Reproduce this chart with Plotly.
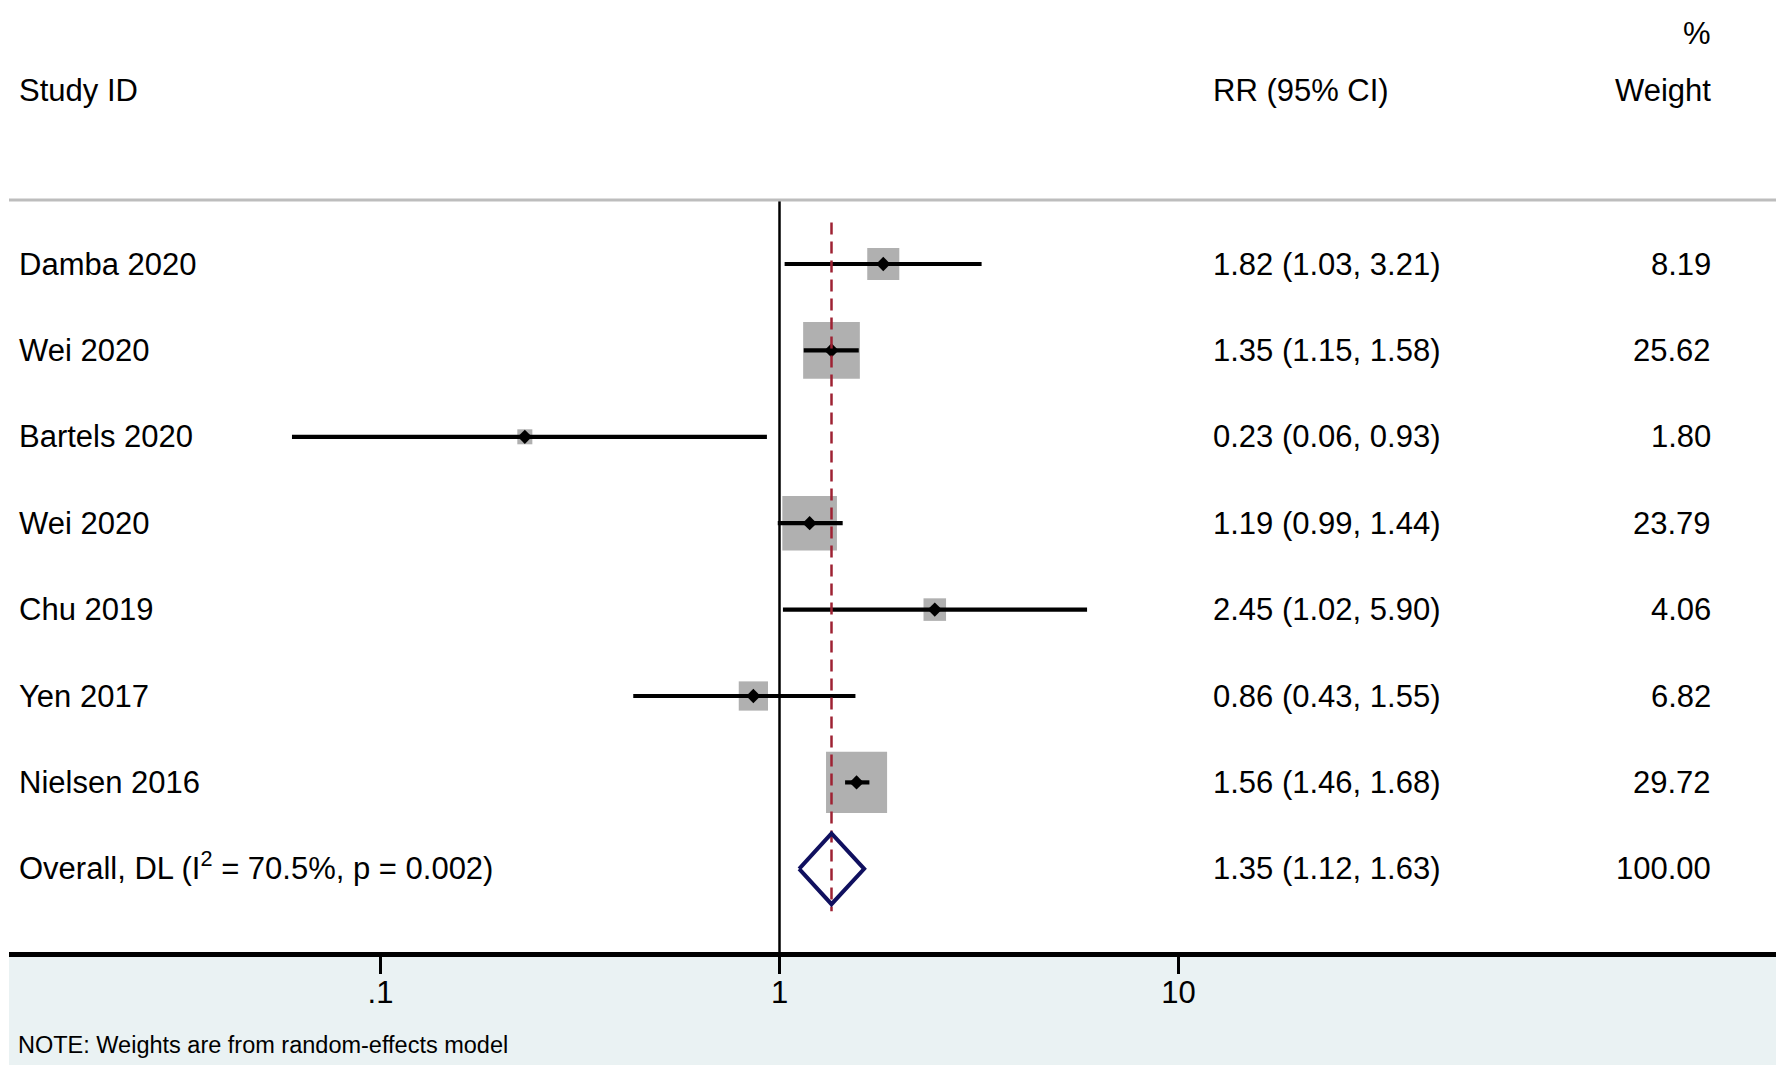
import numpy as np
import plotly.graph_objects as go

# ---------------- data ----------------
studies = ["Damba 2020", "Wei 2020", "Bartels 2020", "Wei 2020", "Chu 2019", "Yen 2017", "Nielsen 2016"]
rr = [1.82, 1.35, 0.23, 1.19, 2.45, 0.86, 1.56]
lower = [1.03, 1.15, 0.06, 0.99, 1.02, 0.43, 1.46]
upper = [3.21, 1.58, 0.93, 1.44, 5.90, 1.55, 1.68]
weights = [8.19, 25.62, 1.80, 23.79, 4.06, 6.82, 29.72]
overall_label = "Overall, DL (I<sup>2</sup> = 70.5%, p = 0.002)"
overall_rr, overall_lo, overall_hi = 1.35, 1.12, 1.63
tick_vals = [0.1, 1, 10]
tick_text = [".1", "1", "10"]

# page body has an 8px margin; shrink the figure so it fits the window exactly
OFF = 8
W, H = 1784 - OFF, 1065 - OFF
FONT = "Liberation Sans, Arial, sans-serif"
FS = 31

n = len(studies)
rows = list(range(n))
overall_row = n

# geometry (window pixels, converted to figure pixels by subtracting OFF)
row0_px, row_step = 264.0 - OFF, 86.4
axis_px = 952.0 - OFF
header_px = 200.0 - OFF
x1_px, decade_px = 779.5 - OFF, 399.0
left_px = 9.0 - OFF

def row_of(px):
    return (px - row0_px) / row_step

y_range = [row_of(axis_px), row_of(0)]
x_range = [(left_px - x1_px) / decade_px, (W - x1_px) / decade_px]

fig = go.Figure()

# vertical line at RR = 1
fig.add_trace(go.Scatter(x=[1, 1], y=[row_of(header_px), row_of(axis_px)], mode="lines",
                         line=dict(color="black", width=2.5), hoverinfo="skip", showlegend=False))

# squares (weights)
sizes = [11.2 * np.sqrt(w) for w in weights]
fig.add_trace(go.Scatter(x=rr, y=rows, mode="markers",
                         marker=dict(symbol="square", size=sizes, color="#b0b0b0", opacity=1,
                                     line=dict(width=0)),
                         hoverinfo="skip", showlegend=False))

# CI lines
cx, cy = [], []
for lo, hi, r in zip(lower, upper, rows):
    cx += [lo, hi, None]
    cy += [r, r, None]
fig.add_trace(go.Scatter(x=cx, y=cy, mode="lines", line=dict(color="black", width=4.2),
                         hoverinfo="skip", showlegend=False))

# point estimates
fig.add_trace(go.Scatter(x=rr, y=rows, mode="markers",
                         marker=dict(symbol="diamond", size=11, color="black", opacity=1),
                         hoverinfo="skip", showlegend=False))

# overall dashed line
fig.add_trace(go.Scatter(x=[overall_rr, overall_rr], y=[-0.48, 7.49], mode="lines",
                         line=dict(color="#9e2233", width=2.5, dash="12px,7px"),
                         hoverinfo="skip", showlegend=False))

# overall diamond
hh = 0.41
fig.add_trace(go.Scatter(x=[overall_lo, overall_rr, overall_hi, overall_rr, overall_lo],
                         y=[overall_row, overall_row - hh, overall_row, overall_row + hh, overall_row],
                         mode="lines", line=dict(color="#10105f", width=4),
                         hoverinfo="skip", showlegend=False))

ann = []
labels = studies + [overall_label]
rr_txt = [f"{a:.2f} ({b:.2f}, {c:.2f})" for a, b, c in zip(rr, lower, upper)] + \
         [f"{overall_rr:.2f} ({overall_lo:.2f}, {overall_hi:.2f})"]
w_txt = [f"{w:.2f}" for w in weights] + ["100.00"]
X_ID, X_RR, X_W = (17 - OFF) / W, (1211 - OFF) / W, (1713 - OFF) / W
for i in range(n + 1):
    # the superscript in the overall label makes its box taller; nudge it to align baselines
    ylab = i - 0.035 if i == overall_row else i
    ann.append(dict(x=X_ID, y=ylab, xref="paper", yref="y", text=labels[i], showarrow=False,
                    xanchor="left", yanchor="middle", font=dict(size=FS, color="black", family=FONT)))
    ann.append(dict(x=X_RR, y=i, xref="paper", yref="y", text=rr_txt[i], showarrow=False,
                    xanchor="left", yanchor="middle", font=dict(size=FS, color="black", family=FONT)))
    ann.append(dict(x=X_W, y=i, xref="paper", yref="y", text=w_txt[i], showarrow=False,
                    xanchor="right", yanchor="middle", font=dict(size=FS, color="black", family=FONT)))

# headers
def py(px):
    return 1 - (px - OFF) / H

ann.append(dict(x=X_ID, y=py(91), xref="paper", yref="paper", text="Study ID", showarrow=False,
                xanchor="left", yanchor="middle", font=dict(size=FS, color="black", family=FONT)))
ann.append(dict(x=X_RR, y=py(91), xref="paper", yref="paper", text="RR (95% CI)", showarrow=False,
                xanchor="left", yanchor="middle", font=dict(size=FS, color="black", family=FONT)))
ann.append(dict(x=X_W, y=py(91), xref="paper", yref="paper", text="Weight", showarrow=False,
                xanchor="right", yanchor="middle", font=dict(size=FS, color="black", family=FONT)))
ann.append(dict(x=X_W, y=py(34), xref="paper", yref="paper", text="%", showarrow=False,
                xanchor="right", yanchor="middle", font=dict(size=FS, color="black", family=FONT)))
ann.append(dict(x=(16 - OFF) / W, y=py(1045), xref="paper", yref="paper",
                text="NOTE: Weights are from random-effects model", showarrow=False,
                xanchor="left", yanchor="middle", font=dict(size=23.5, color="black", family=FONT)))

shapes = [
    dict(type="rect", xref="paper", yref="paper", x0=left_px / W, x1=1, y0=0, y1=py(954),
         fillcolor="#eaf2f3", line=dict(width=0), layer="below"),
    dict(type="line", xref="paper", yref="paper", x0=left_px / W, x1=1, y0=py(200), y1=py(200),
         line=dict(color="#bdbdbd", width=3)),
]

fig.update_layout(
    width=W, height=H, margin=dict(l=0, r=0, t=0, b=0),
    paper_bgcolor="white", plot_bgcolor="white",
    showlegend=False, annotations=ann, shapes=shapes,
    xaxis=dict(type="log", domain=[left_px / W, 1], range=x_range, showgrid=False, zeroline=False,
               showline=True, linecolor="black", linewidth=4.5,
               tickvals=tick_vals, ticktext=tick_text, ticks="outside", ticklen=17, tickwidth=2.5,
               tickcolor="black", tickfont=dict(size=FS, color="black", family=FONT),
               ticklabelstandoff=-8, fixedrange=True),
    yaxis=dict(domain=[py(952), 1], range=y_range, showgrid=False, zeroline=False,
               showline=False, showticklabels=False, ticks="", fixedrange=True),
)

fig.write_html("out.html")
